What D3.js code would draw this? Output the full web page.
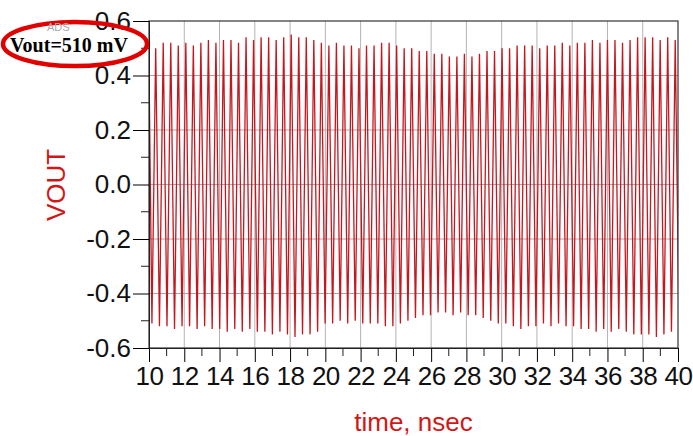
<!DOCTYPE html>
<html>
<head>
<meta charset="utf-8">
<script src="https://cdn.jsdelivr.net/npm/d3@7"></script>
<style>
  body { margin: 0; background: #fff; }
  svg { display: block; }
</style>
</head>
<body>
<div id="chart"></div>
<script>

// x and y tick values
var xTicks = [10, 12, 14, 16, 18, 20, 22, 24, 26, 28, 30, 32, 34, 36, 38, 40];
var xMinor = [11, 13, 15, 17, 19, 21, 23, 25, 27, 29, 31, 33, 35, 37, 39];
var yTicks = [0.6, 0.4, 0.2, 0.0, -0.2, -0.4, -0.6];
var yLabels = ["0.6", "0.4", "0.2", "0.0", "-0.2", "-0.4", "-0.6"];
var yMinor = [0.5, 0.3, 0.1, -0.1, -0.3, -0.5];

// waveform: one peak and one trough per cycle
var startTime = 10.0, startValue = 0.43, firstLow = -0.51;
var firstPeak = 10.38, period = 0.427;
var highs = [
	0.50, 0.52, 0.52, 0.51, 0.52,
	0.51, 0.52, 0.53, 0.52, 0.53,
	0.53, 0.52, 0.54, 0.53, 0.54,
	0.54, 0.53, 0.54, 0.55, 0.54,
	0.54, 0.53, 0.52, 0.51, 0.52,
	0.51, 0.51, 0.50, 0.51, 0.51,
	0.52, 0.52, 0.51, 0.50, 0.50,
	0.49, 0.49, 0.48, 0.48, 0.47,
	0.47, 0.48, 0.47, 0.48, 0.49,
	0.49, 0.50, 0.50, 0.51, 0.51,
	0.51, 0.50, 0.51, 0.51, 0.52,
	0.51, 0.52, 0.52, 0.53, 0.52,
	0.53, 0.53, 0.52, 0.53, 0.54,
	0.54, 0.54, 0.53, 0.54, 0.53
];
var lows = [
	-0.52, -0.52, -0.53, -0.52, -0.52,
	-0.53, -0.52, -0.53, -0.53, -0.54,
	-0.53, -0.54, -0.53, -0.54, -0.54,
	-0.55, -0.54, -0.55, -0.56, -0.55,
	-0.55, -0.54, -0.51, -0.51, -0.50,
	-0.51, -0.50, -0.51, -0.51, -0.51,
	-0.52, -0.52, -0.51, -0.50, -0.49,
	-0.48, -0.48, -0.47, -0.47, -0.48,
	-0.47, -0.48, -0.48, -0.49, -0.50,
	-0.51, -0.51, -0.52, -0.53, -0.52,
	-0.52, -0.51, -0.52, -0.51, -0.52,
	-0.52, -0.53, -0.53, -0.54, -0.53,
	-0.54, -0.53, -0.54, -0.55, -0.55,
	-0.55, -0.56, -0.55, -0.54, -0.53
];

// build the point list from the peaks and troughs
var points = [[startTime, startValue], [firstPeak - period / 2, firstLow]];
for (var i = 0; i < highs.length; i++) {
	points.push([firstPeak + i * period, highs[i]]);
	points.push([firstPeak + (i + 0.5) * period, lows[i]]);
}

var width = 693;
var height = 436;
var plot = {left: 149, right: 678, top: 21, bottom: 348};

var svg = d3.select("#chart")
	.append("svg")
	.attr("width", width)
	.attr("height", height);

var xScale = d3.scaleLinear().domain([10, 40]).range([plot.left, plot.right]);
var yScale = d3.scaleLinear().domain([-0.6, 0.6]).range([plot.bottom, plot.top]);

// grid
svg.append("g").selectAll("line")
	.data(xTicks.slice(1, -1))
	.enter().append("line")
	.attr("x1", function(d) { return xScale(d); })
	.attr("x2", function(d) { return xScale(d); })
	.attr("y1", plot.top).attr("y2", plot.bottom)
	.attr("stroke", "#b4b4b4").attr("stroke-width", 1);

svg.append("g").selectAll("line")
	.data(yTicks.slice(1, -1))
	.enter().append("line")
	.attr("x1", plot.left).attr("x2", plot.right)
	.attr("y1", function(d) { return yScale(d); })
	.attr("y2", function(d) { return yScale(d); })
	.attr("stroke", "#b4a0a0").attr("stroke-width", 1);

// waveform
svg.append("clipPath").attr("id", "clip")
	.append("rect")
	.attr("x", plot.left).attr("y", plot.top)
	.attr("width", plot.right - plot.left).attr("height", plot.bottom - plot.top);

var line = d3.line()
	.x(function(d) { return xScale(d[0]); })
	.y(function(d) { return yScale(d[1]); });

svg.append("path")
	.datum(points)
	.attr("clip-path", "url(#clip)")
	.attr("d", line)
	.attr("fill", "none")
	.attr("stroke", "#c41820")
	.attr("stroke-width", 1.3);

// frame
svg.append("rect")
	.attr("x", plot.left).attr("y", plot.top)
	.attr("width", plot.right - plot.left).attr("height", plot.bottom - plot.top)
	.attr("fill", "none").attr("stroke", "#333").attr("stroke-width", 1.2);

// x axis
var xAxis = svg.append("g")
	.attr("transform", "translate(0," + plot.bottom + ")")
	.call(d3.axisBottom(xScale).tickValues(xTicks).tickSize(14).tickPadding(5).tickFormat(d3.format("d")));
xAxis.select(".domain").attr("stroke", "#222");
xAxis.selectAll("text")
	.style("font-family", "'Liberation Sans', Arial, sans-serif")
	.style("font-size", "26px")
	.style("letter-spacing", "-0.5px")
	.attr("fill", "#111");

svg.append("g").selectAll("line")
	.data(xMinor)
	.enter().append("line")
	.attr("x1", function(d) { return xScale(d); })
	.attr("x2", function(d) { return xScale(d); })
	.attr("y1", plot.bottom).attr("y2", plot.bottom + 8)
	.attr("stroke", "#222");

// y axis
var yAxis = svg.append("g")
	.attr("transform", "translate(" + plot.left + ",0)")
	.call(d3.axisLeft(yScale).tickValues(yTicks).tickSize(16).tickPadding(2)
		.tickFormat(function(d, i) { return yLabels[i]; }));
yAxis.select(".domain").attr("stroke", "#222");
yAxis.selectAll("text")
	.style("font-family", "'Liberation Sans', Arial, sans-serif")
	.style("font-size", "26px")
	.attr("fill", "#111");

svg.append("g").selectAll("line")
	.data(yMinor)
	.enter().append("line")
	.attr("x1", plot.left - 8).attr("x2", plot.left)
	.attr("y1", function(d) { return yScale(d); })
	.attr("y2", function(d) { return yScale(d); })
	.attr("stroke", "#222");

// axis titles
svg.append("text")
	.attr("transform", "translate(65,185) rotate(-90)")
	.attr("text-anchor", "middle")
	.style("font-family", "'Liberation Sans', Arial, sans-serif")
	.style("font-size", "26px")
	.attr("fill", "#d01818")
	.text("VOUT");

svg.append("text")
	.attr("x", (plot.left + plot.right) / 2)
	.attr("y", 431)
	.attr("text-anchor", "middle")
	.style("font-family", "'Liberation Sans', Arial, sans-serif")
	.style("font-size", "26px")
	.attr("fill", "#d01818")
	.text("time, nsec");

// annotation: ellipse first so the small text stays on top
svg.append("ellipse")
	.attr("cx", 75).attr("cy", 44)
	.attr("rx", 72).attr("ry", 22)
	.attr("fill", "none")
	.attr("stroke", "#e00000")
	.attr("stroke-width", 4.5);

svg.append("text")
	.attr("x", 47).attr("y", 31)
	.style("font-family", "'Liberation Sans', Arial, sans-serif")
	.style("font-size", "11px")
	.attr("fill", "#aaa")
	.text("ADS");

svg.append("text")
	.attr("x", 10).attr("y", 52)
	.style("font-family", "'Liberation Serif', 'Times New Roman', serif")
	.style("font-size", "20px")
	.style("font-weight", "bold")
	.attr("fill", "#000")
	.text("Vout=510 mV");

</script>
</body>
</html>
